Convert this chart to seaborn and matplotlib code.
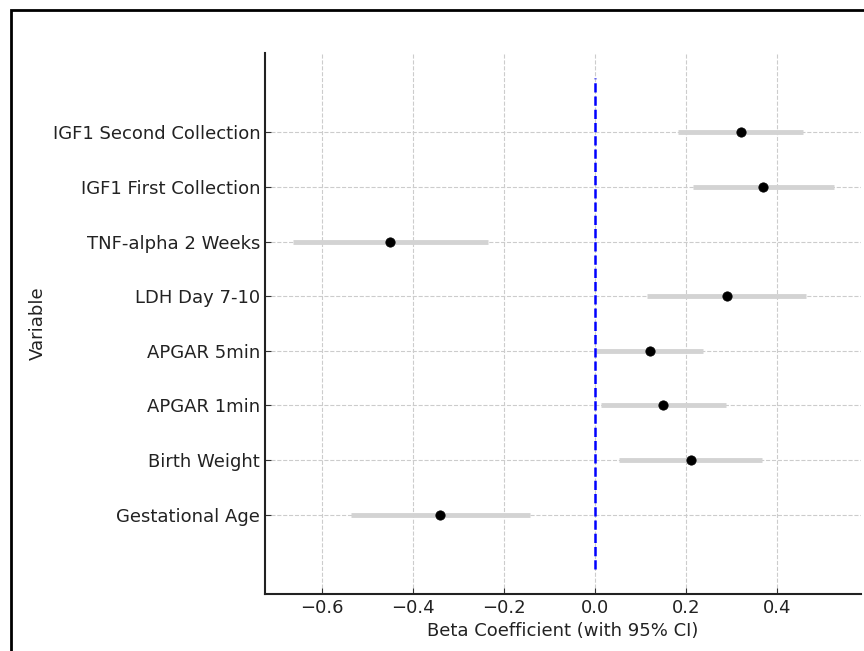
import numpy as np
import pandas as pd
import matplotlib
matplotlib.use("Agg")
import matplotlib.pyplot as plt
import seaborn as sns
from matplotlib.patches import Rectangle

# Data (bottom to top)
variables = ['Gestational Age', 'Birth Weight', 'APGAR 1min', 'APGAR 5min',
             'LDH Day 7-10', 'TNF-alpha 2 Weeks', 'IGF1 First Collection',
             'IGF1 Second Collection']
beta = [-0.34, 0.21, 0.15, 0.12, 0.29, -0.45, 0.37, 0.32]
ci_lower = [-0.536, 0.053, 0.013, 0.002, 0.115, -0.665, 0.215, 0.183]
ci_upper = [-0.144, 0.367, 0.287, 0.238, 0.465, -0.235, 0.525, 0.457]

df = pd.DataFrame({'Variable': variables, 'Beta': beta,
                   'Lower': ci_lower, 'Upper': ci_upper})
df['pos'] = np.arange(len(df))

sns.set_style("whitegrid")
plt.rcParams['font.family'] = ['DejaVu Sans']

fig = plt.figure(figsize=(8.64, 6.51), dpi=100)
ax = fig.add_axes([265 / 864, 1 - 594 / 651, (861 - 265) / 864, (594 - 53) / 651])

# CI bars
ax.hlines(df['pos'], df['Lower'], df['Upper'], color='lightgray', lw=3.5, zorder=2)
# reference line at zero
ax.vlines(0, -1, len(df), color='blue', linestyle='--', lw=1.8, zorder=3)
# point estimates
sns.scatterplot(data=df, x='Beta', y='pos', color='black', s=45,
                edgecolor='black', zorder=4, ax=ax, legend=False)

ax.set_yticks(df['pos'])
ax.set_yticklabels(df['Variable'])
ax.set_xticks([-0.6, -0.4, -0.2, 0.0, 0.2, 0.4])
ax.set_xlim(-0.726, 0.585)
ax.set_ylim(-1.45, len(df) + 0.45)

ax.set_xlabel('Beta Coefficient (with 95% CI)', fontsize=13, color='#222222')
ax.set_ylabel('Variable', fontsize=13, color='#222222')
ax.tick_params(axis='both', labelsize=13, direction='in', length=4,
               color='#333333', labelcolor='#222222', left=True, bottom=True)

ax.grid(True, linestyle='--', color='#cccccc', lw=0.8)
ax.set_axisbelow(True)
for side in ['top', 'right']:
    ax.spines[side].set_visible(False)
for side in ['left', 'bottom']:
    ax.spines[side].set_visible(True)
    ax.spines[side].set_color('#222222')
    ax.spines[side].set_linewidth(1.5)

# figure frame
fig.patches.append(Rectangle((11 / 864, -0.02), 1.05, 1 - 10 / 651 + 0.02,
                             transform=fig.transFigure, fill=False,
                             edgecolor='black', lw=2))

fig.savefig('out.png', dpi=100, facecolor='white')
